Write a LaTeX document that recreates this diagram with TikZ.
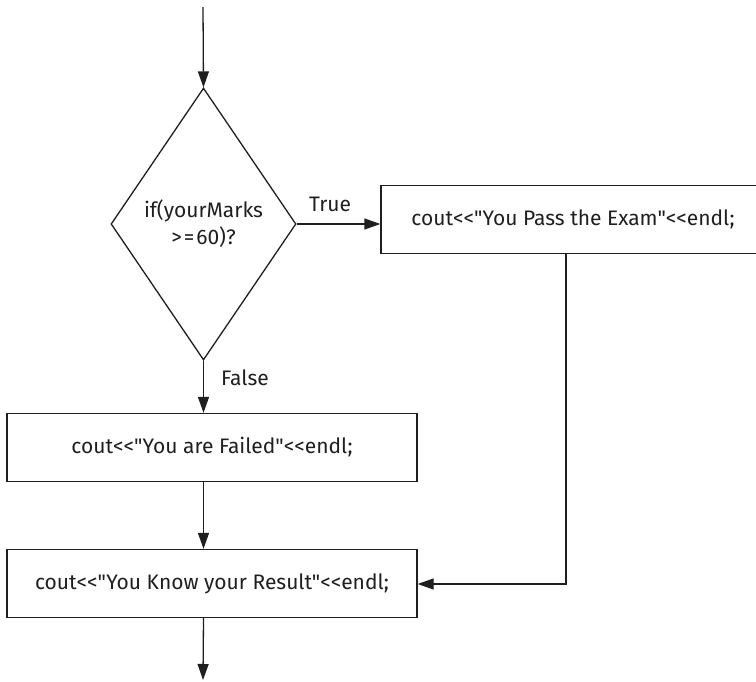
\documentclass[tikz,border=0pt]{standalone}
\usepackage{fontspec}
\setmainfont{Fira Sans}[Ligatures=TeXOff]
\usetikzlibrary{shapes.geometric,arrows.meta}
\begin{document}
\begin{tikzpicture}[x=1pt,y=-1pt,
  line width=1.3pt, draw=black!88,
  every node/.style={font=\fontsize{21}{27}\selectfont, text=black!88},
  procbox/.style={draw, rectangle, minimum height=68pt, inner sep=0pt},
  decision/.style={draw, diamond, minimum width=185pt, minimum height=272pt, inner sep=0pt, align=center},
  flow/.style={-{Triangle[length=16pt,width=11pt]}},
  lbl/.style={inner sep=0pt}]
\useasboundingbox (0,0) rectangle (756,681);
\coordinate (start) at (203,7);
\node[decision] (dec) at (203.5,224) {if(yourMarks\\>\kern2pt=\kern2pt60)?};
\node[procbox, minimum width=384pt] (pass) at (573,219.5) {cout<<"You Pass the Exam"<<endl;};
\node[procbox, minimum width=410pt] (fail) at (212,447.5) {cout<<"You are Failed"<<endl;};
\node[procbox, minimum width=410pt] (res) at (212,583.5) {cout<<"You Know your Result"<<endl;};
\coordinate (endpt) at (203,680);
\coordinate (corner) at (566,584);
\node[lbl] (tl) at (330,204) {True};
\node[lbl] (fl) at (245,378) {False};
\draw[flow] (start) -- (dec.north);
\draw[flow] (dec.east) -- (dec.east -| pass.west);
\draw[flow] (dec.south) -- (dec.south |- fail.north);
\draw[flow] (dec.south |- fail.south) -- (dec.south |- res.north);
\draw[flow] (dec.south |- res.south) -- (endpt);
\draw[flow] (corner |- pass.south) -- (corner) -- (corner -| res.east);
\end{tikzpicture}
\end{document}
